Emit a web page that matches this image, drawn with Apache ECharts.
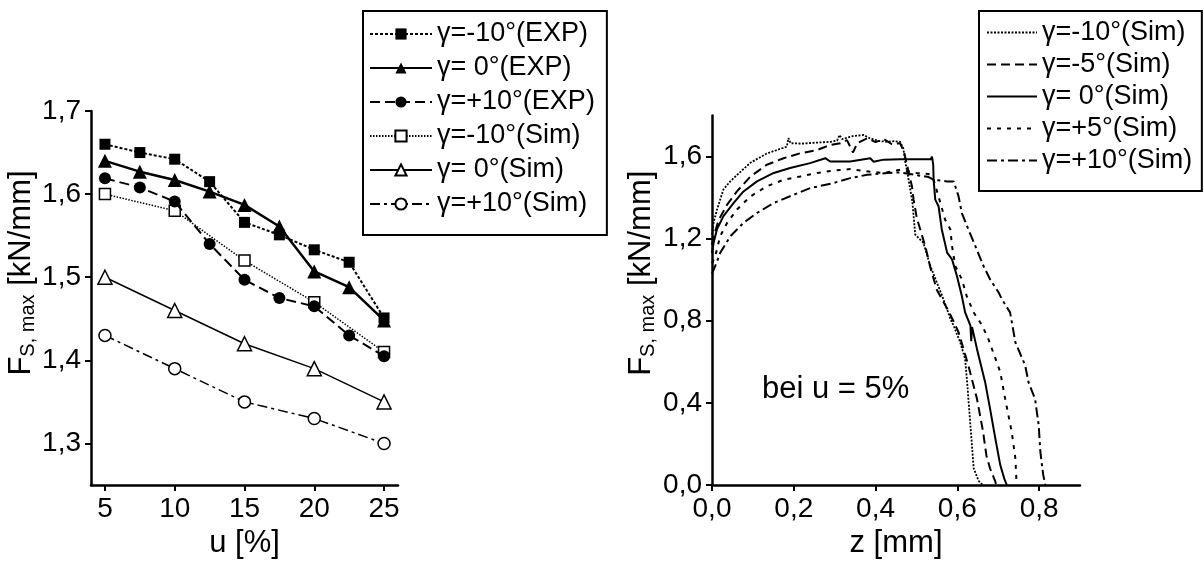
<!DOCTYPE html>
<html><head><meta charset="utf-8">
<script src="https://cdn.jsdelivr.net/npm/echarts@6/dist/echarts.min.js"></script>
<style>html,body{margin:0;padding:0;background:#fff}#c{width:1204px;height:564px}</style>
</head><body><div id="c"></div>
<script>
// ---------- Left chart data ----------
const uExp = [5, 7.5, 10, 12.5, 15, 17.5, 20, 22.5, 25];
const uSim = [5, 10, 15, 20, 25];
const expM10 = [1.660, 1.650, 1.642, 1.615, 1.566, 1.551, 1.533, 1.518, 1.451];
const exp0   = [1.640, 1.627, 1.617, 1.603, 1.587, 1.561, 1.507, 1.488, 1.448];
const expP10 = [1.619, 1.608, 1.591, 1.540, 1.497, 1.475, 1.465, 1.430, 1.405];
const simM10 = [1.60, 1.58, 1.52, 1.47, 1.41];
const sim0   = [1.50, 1.46, 1.42, 1.39, 1.35];
const simP10 = [1.43, 1.39, 1.35, 1.33, 1.30];
const leftXTicks = [5, 10, 15, 20, 25];
const leftYTicks = [1.3, 1.4, 1.5, 1.6, 1.7];

// ---------- Right chart data (z [mm], F) ----------
const zM10 = [[0,1.22],[0.004,1.28],[0.012,1.34],[0.028,1.44],[0.045,1.48],[0.061,1.51],[0.094,1.57],[0.134,1.615],[0.159,1.632],[0.183,1.648],[0.187,1.69],[0.192,1.665],[0.22,1.663],[0.257,1.668],[0.29,1.672],[0.306,1.678],[0.312,1.705],[0.318,1.685],[0.345,1.70],[0.371,1.705],[0.385,1.69],[0.41,1.675],[0.43,1.672],[0.445,1.675],[0.46,1.672],[0.468,1.64],[0.472,1.58],[0.478,1.52],[0.49,1.38],[0.497,1.22],[0.517,1.18],[0.534,1.067],[0.566,0.905],[0.583,0.81],[0.591,0.776],[0.607,0.695],[0.619,0.614],[0.624,0.50],[0.632,0.29],[0.640,0.081],[0.652,0.02],[0.662,0.0]];
const zM5 = [[0,1.17],[0.004,1.21],[0.016,1.29],[0.037,1.366],[0.061,1.43],[0.094,1.503],[0.134,1.56],[0.175,1.592],[0.216,1.616],[0.257,1.632],[0.289,1.656],[0.314,1.665],[0.33,1.68],[0.345,1.62],[0.355,1.665],[0.38,1.69],[0.40,1.67],[0.42,1.685],[0.44,1.66],[0.46,1.665],[0.47,1.62],[0.478,1.55],[0.489,1.455],[0.493,1.39],[0.501,1.30],[0.522,1.16],[0.534,1.06],[0.55,0.95],[0.575,0.86],[0.59,0.80],[0.603,0.744],[0.627,0.582],[0.648,0.42],[0.663,0.259],[0.671,0.145],[0.68,0.081],[0.693,0.016],[0.695,0.0]];
const z0 = [[0,1.13],[0.004,1.18],[0.012,1.245],[0.028,1.31],[0.053,1.374],[0.077,1.43],[0.11,1.479],[0.151,1.52],[0.191,1.544],[0.24,1.568],[0.277,1.592],[0.289,1.576],[0.338,1.576],[0.387,1.592],[0.395,1.575],[0.42,1.585],[0.46,1.587],[0.50,1.587],[0.535,1.587],[0.538,1.60],[0.541,1.56],[0.542,1.487],[0.546,1.39],[0.554,1.358],[0.562,1.245],[0.575,1.132],[0.587,1.099],[0.599,1.018],[0.611,0.921],[0.619,0.841],[0.632,0.776],[0.634,0.70],[0.636,0.77],[0.648,0.663],[0.668,0.501],[0.68,0.372],[0.693,0.226],[0.705,0.097],[0.715,0.03],[0.721,0.0]];
const zP5 = [[0,1.08],[0.008,1.115],[0.02,1.212],[0.037,1.277],[0.061,1.342],[0.094,1.406],[0.134,1.455],[0.175,1.487],[0.216,1.503],[0.257,1.52],[0.297,1.532],[0.338,1.539],[0.379,1.528],[0.419,1.52],[0.46,1.536],[0.50,1.52],[0.53,1.515],[0.542,1.487],[0.554,1.406],[0.57,1.293],[0.583,1.245],[0.587,1.164],[0.595,1.067],[0.611,1.002],[0.623,0.92],[0.64,0.84],[0.66,0.78],[0.676,0.711],[0.705,0.55],[0.717,0.42],[0.733,0.259],[0.742,0.129],[0.745,0.0]];
const zP10 = [[0,1.03],[0.008,1.067],[0.02,1.131],[0.045,1.212],[0.077,1.277],[0.11,1.325],[0.151,1.374],[0.2,1.414],[0.24,1.446],[0.297,1.471],[0.338,1.495],[0.379,1.511],[0.428,1.52],[0.46,1.523],[0.50,1.51],[0.53,1.50],[0.542,1.487],[0.575,1.479],[0.591,1.479],[0.603,1.406],[0.611,1.325],[0.627,1.245],[0.644,1.164],[0.664,1.067],[0.68,1.002],[0.701,0.938],[0.709,0.905],[0.729,0.841],[0.742,0.695],[0.766,0.582],[0.774,0.501],[0.79,0.42],[0.799,0.291],[0.803,0.162],[0.81,0.05],[0.815,0.0]];
const rightXTicks = [0, 0.2, 0.4, 0.6, 0.8];
const rightYTicks = [0, 0.4, 0.8, 1.2, 1.6];

const leftNames = ['γ=-10°(EXP)', 'γ= 0°(EXP)', 'γ=+10°(EXP)', 'γ=-10°(Sim)', 'γ= 0°(Sim)', 'γ=+10°(Sim)'];
const rightNames = ['γ=-10°(Sim) ', 'γ=-5°(Sim) ', 'γ= 0°(Sim) ', 'γ=+5°(Sim) ', 'γ=+10°(Sim) '];

const FF = 'Liberation Sans, Arial, sans-serif';
const TICK_FS = 28, TITLE_FS = 31, LEG_FS = 27;
const fmt = v => Number(v).toFixed(1).replace('.', ',');
const zip = (xs, ys) => xs.map((x, i) => [x, ys[i]]);

function axisCommon() {
  return {
    axisLine: { show: true, onZero: false, lineStyle: { color: '#000', width: 2.5 } },
    splitLine: { show: false },
    nameLocation: 'middle',
  };
}
const nameRich = {
  a: { fontSize: TITLE_FS, fontFamily: FF, color: '#000', lineHeight: 34 },
  b: { fontSize: 20, fontFamily: FF, color: '#000', lineHeight: 16, verticalAlign: 'bottom' }
};
const tickLabel = (vals, extra) => Object.assign({ customValues: vals, fontSize: TICK_FS, color: '#000', fontFamily: FF }, extra);
const tick = vals => ({ show: true, customValues: vals, length: 6, inside: false, lineStyle: { color: '#000', width: 2 } });

const chart = echarts.init(document.getElementById('c'), null, { renderer: 'canvas' });
const expLine = (name, data, sym, size, type, width) => ({
  name, type: 'line', xAxisIndex: 0, yAxisIndex: 0, data, symbol: sym, symbolSize: size, z: 4,
  lineStyle: { color: '#000', width, type }, itemStyle: { color: '#000' }
});
const simLine = (name, data, sym, size, type, width) => ({
  name, type: 'line', xAxisIndex: 0, yAxisIndex: 0, data, symbol: sym, symbolSize: size, z: 3,
  lineStyle: { color: '#000', width, type }, itemStyle: { color: '#fff', borderColor: '#000', borderWidth: 1.5 }
});
const zLine = (name, data, type, width) => ({
  name, type: 'line', xAxisIndex: 1, yAxisIndex: 1, data, symbol: 'none', showSymbol: false,
  lineStyle: { color: '#000', width, type }, itemStyle: { color: '#000' }
});

chart.setOption({
  animation: false,
  backgroundColor: '#fff',
  textStyle: { fontFamily: FF },
  grid: [
    { left: 91, top: 111, width: 307, height: 376 },
    { left: 712, top: 115.5, width: 368, height: 371.2 }
  ],
  xAxis: [
    Object.assign(axisCommon(), {
      gridIndex: 0, type: 'value', min: 4, max: 26,
      axisLabel: tickLabel(leftXTicks, { margin: 10 }),
      axisTick: tick(leftXTicks),
      name: 'u [%]', nameGap: 43, nameTextStyle: { fontSize: TITLE_FS, color: '#000', fontFamily: FF }
    }),
    Object.assign(axisCommon(), {
      gridIndex: 1, type: 'value', min: 0, max: 0.9,
      axisLabel: tickLabel(rightXTicks, { margin: 10, formatter: fmt }),
      axisTick: tick(rightXTicks),
      name: 'z [mm]', nameGap: 43, nameTextStyle: { fontSize: TITLE_FS, color: '#000', fontFamily: FF }
    })
  ],
  yAxis: [
    Object.assign(axisCommon(), {
      gridIndex: 0, type: 'value', min: 1.25, max: 1.7,
      axisLabel: tickLabel(leftYTicks, { margin: 10, formatter: fmt }),
      axisTick: tick(leftYTicks),
      name: '{a|F}{b|S, max}{a| [kN/mm]}', nameGap: 52,
      nameTextStyle: { rich: nameRich, padding: [0, 0, 0, 50] }
    }),
    Object.assign(axisCommon(), {
      gridIndex: 1, type: 'value', min: 0, max: 1.8,
      axisLabel: tickLabel(rightYTicks, { margin: 10, formatter: fmt }),
      axisTick: tick(rightYTicks),
      name: '{a|F}{b|S, max}{a| [kN/mm]}', nameGap: 54,
      nameTextStyle: { rich: nameRich, padding: [0, 0, 0, 54] }
    })
  ],
  legend: [
    {
      data: leftNames, left: 363, top: 11, orient: 'vertical', selectedMode: false,
      itemWidth: 62, itemHeight: 14, itemGap: 6, padding: [9, 12, 17, 6],
      borderColor: '#000', borderWidth: 2, backgroundColor: '#fff',
      textStyle: { fontSize: LEG_FS, lineHeight: 28, color: '#000', fontFamily: FF }
    },
    {
      data: rightNames, left: 979, top: 11, orient: 'vertical', selectedMode: false,
      itemWidth: 50, itemHeight: 14, itemGap: 5, padding: [8, 2, 17, 7],
      borderColor: '#000', borderWidth: 2, backgroundColor: '#fff',
      itemStyle: { color: 'rgba(0,0,0,0)', borderWidth: 0, opacity: 0 },
      textStyle: { fontSize: LEG_FS, lineHeight: 27, color: '#000', fontFamily: FF }
    }
  ],
  graphic: [
    { type: 'text', left: 762, top: 374, style: { text: 'bei u = 5%', fontSize: 31, fontFamily: FF, fill: '#000' } }
  ],
  series: [
    expLine(leftNames[0], zip(uExp, expM10), 'rect', 11, [3, 2], 2),
    expLine(leftNames[1], zip(uExp, exp0), 'triangle', 14, 'solid', 2.5),
    expLine(leftNames[2], zip(uExp, expP10), 'circle', 12, [10, 5], 2),
    simLine(leftNames[3], zip(uSim, simM10), 'rect', 11, [1.5, 1.5], 1.5),
    simLine(leftNames[4], zip(uSim, sim0), 'triangle', 14, 'solid', 1.5),
    simLine(leftNames[5], zip(uSim, simP10), 'circle', 12, [10, 4, 3, 4], 1.5),
    zLine(rightNames[0], zM10, [2, 1.5], 1.8),
    zLine(rightNames[1], zM5, [9, 5], 2),
    zLine(rightNames[2], z0, 'solid', 2),
    zLine(rightNames[3], zP5, [4, 6], 2),
    zLine(rightNames[4], zP10, [10, 4, 3, 4], 2)
  ]
});
</script></body></html>
